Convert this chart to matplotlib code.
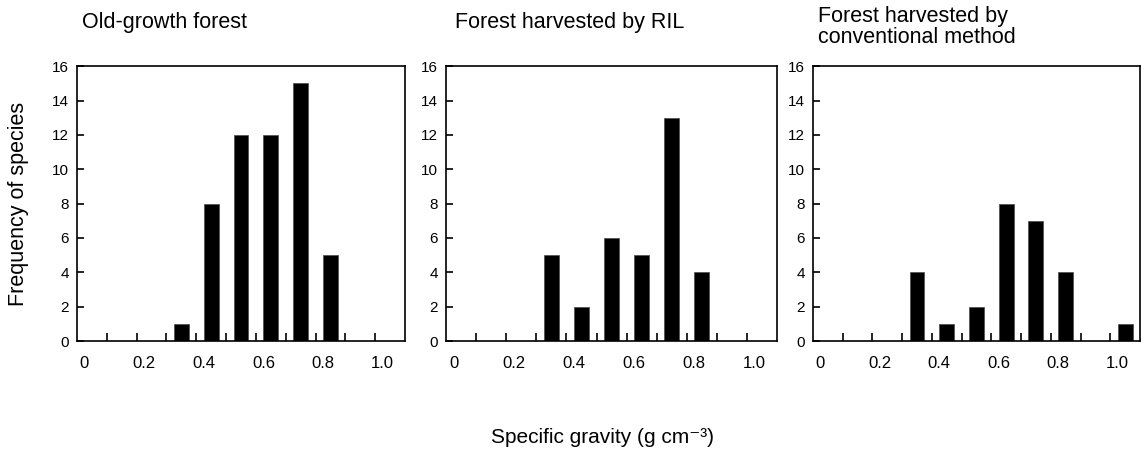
import matplotlib
matplotlib.use("Agg")
import matplotlib.pyplot as plt

plt.rcParams['font.family'] = ['Liberation Sans', 'DejaVu Sans']

# bin centres of specific gravity classes (width 0.1)
bin_centres = [0.35, 0.45, 0.55, 0.65, 0.75, 0.85, 0.95, 1.05]
old_growth = [1, 8, 12, 12, 15, 5, 0, 0]
ril = [5, 2, 6, 5, 13, 4, 0, 0]
conventional = [4, 1, 2, 8, 7, 4, 0, 1]

titles = ["Old-growth forest", "Forest harvested by RIL",
          "Forest harvested by\nconventional method"]
series = [old_growth, ril, conventional]

tick_pos = [0.1, 0.2, 0.3, 0.4, 0.5, 0.6, 0.7, 0.8, 0.9, 1.0]
label_pos = [0, 0.2, 0.4, 0.6, 0.8, 1.0]
label_txt = ["0", "0.2", "0.4", "0.6", "0.8", "1.0"]
y_ticks = [0, 2, 4, 6, 8, 10, 12, 14, 16]

fig = plt.figure(figsize=(11.41, 4.53), dpi=100)
lefts = [0.0675, 0.391, 0.7125]
widths = [0.2875, 0.290, 0.2866]

for i in range(3):
    ax = fig.add_axes([lefts[i], 0.247, widths[i], 0.607])
    ax.bar(bin_centres, series[i], width=0.05, color='black',
           edgecolor='#555555', linewidth=0.6)
    ax.set_xlim(0, 1.1)
    ax.set_ylim(0, 16)
    ax.set_yticks(y_ticks)
    ax.set_yticklabels([str(v) for v in y_ticks], fontsize=11)
    ax.set_xticks(tick_pos)
    ax.set_xticklabels([])
    ax.tick_params(axis='x', direction='in', length=6, width=1.2)
    ax.tick_params(axis='y', direction='in', length=5, width=1.2, pad=6)
    for s in ax.spines.values():
        s.set_linewidth(1.2)
    for p, t in zip(label_pos, label_txt):
        ax.text(p + 0.025, -1.3, t, ha='center', va='center', fontsize=12)

fig.text(0.072, 0.951, titles[0], ha='left', va='center', fontsize=15.5)
fig.text(0.399, 0.951, titles[1], ha='left', va='center', fontsize=15.5)
fig.text(0.717, 0.94, titles[2], ha='left', va='center', fontsize=15.5,
         linespacing=1.0)

fig.text(0.016, 0.55, "Frequency of species", rotation=90, ha='center',
         va='center', fontsize=15.5)
fig.text(0.528, 0.035, "Specific gravity (g cm\u207b\u00b3)", ha='center',
         va='center', fontsize=15)

fig.savefig("out.png", dpi=100)
